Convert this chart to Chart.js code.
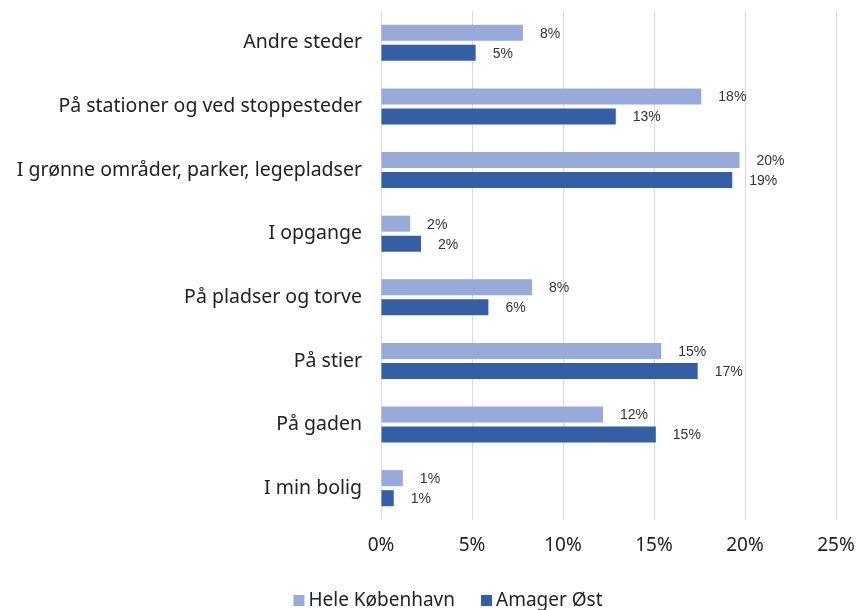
<!DOCTYPE html>
<html>
<head>
<meta charset="utf-8">
<script src="https://cdn.jsdelivr.net/npm/chart.js@4"></script>
<style>
  html, body { margin: 0; padding: 0; background: #ffffff; }
  #wrap { width: 858px; height: 610px; position: relative; }
</style>
</head>
<body>
<div id="wrap"><canvas id="chart"></canvas></div>
<script>

/**
 * Data
 */
const CATEGORIES = [
  'Andre steder',
  'På stationer og ved stoppesteder',
  'I grønne områder, parker, legepladser',
  'I opgange',
  'På pladser og torve',
  'På stier',
  'På gaden',
  'I min bolig'
];

const HELE_KOBENHAVN = [7.8, 17.6, 19.7, 1.6, 8.3, 15.4, 12.2, 1.2];
const AMAGER_OST = [5.2, 12.9, 19.3, 2.2, 5.9, 17.4, 15.1, 0.7];

const SERIES_NAMES = ['Hele København', 'Amager Øst'];
const X_TICKS = [0, 5, 10, 15, 20, 25];

const LIGHT_BLUE = '#98aad9';
const DARK_BLUE = '#355fa4';
const TEXT_COLOR = '#222222';
const LABEL_FONT = '"Noto Sans", sans-serif';

//
//
// Value labels at the end of each bar
const valueLabels = {
  id: 'valueLabels',
  afterDatasetsDraw(chart) {
    let ctx = chart.ctx;
    ctx.save();
    ctx.font = '14px "Liberation Sans", Arial, sans-serif';
    ctx.fillStyle = '#333333';
    ctx.textAlign = 'left';
    ctx.textBaseline = 'middle';
    chart.data.datasets.forEach((ds, i) => {
      let meta = chart.getDatasetMeta(i);
      meta.data.forEach((bar, j) => {
        ctx.fillText(Math.round(ds.data[j]) + '%', bar.x + 17, bar.y + 1);
      });
    });
    ctx.restore();
  }
};

//
//
// Legend under the axis, centred like the original
const bottomLegend = {
  id: 'bottomLegend',
  afterDraw(chart) {
    let ctx = chart.ctx;
    let box = 11, gap = 4, spacing = 26, centerX = 448, y = 601;
    ctx.save();
    ctx.font = '19px ' + LABEL_FONT;
    ctx.textBaseline = 'middle';
    ctx.textAlign = 'left';
    let items = chart.data.datasets.map(ds => ({
      text: ds.label,
      color: ds.backgroundColor,
      width: box + gap + ctx.measureText(ds.label).width
    }));
    let total = items.reduce((s, it) => s + it.width, 0) + spacing * (items.length - 1);
    let x = centerX - total / 2;
    items.forEach(it => {
      ctx.fillStyle = it.color;
      ctx.fillRect(x, y - 6, box, box);
      ctx.fillStyle = TEXT_COLOR;
      ctx.fillText(it.text, x + box + gap, y);
      x += it.width + spacing;
    });
    ctx.restore();
  }
};

let ctx = document.getElementById('chart').getContext('2d');

new Chart(ctx, {
  type: 'bar',
  data: {
    labels: CATEGORIES,
    datasets: [{
      label: SERIES_NAMES[0],
      data: HELE_KOBENHAVN,
      backgroundColor: LIGHT_BLUE,
      categoryPercentage: 0.63,
      barPercentage: 0.8
    }, {
      label: SERIES_NAMES[1],
      data: AMAGER_OST,
      backgroundColor: DARK_BLUE,
      categoryPercentage: 0.63,
      barPercentage: 0.8
    }]
  },
  options: {
    indexAxis: 'y',
    responsive: true,
    maintainAspectRatio: false,
    animation: false,
    layout: {
      padding: { left: 0, right: 22, top: 11, bottom: 46 }
    },
    scales: {
      x: {
        min: 0,
        max: 25,
        afterBuildTicks(scale) {
          scale.ticks = X_TICKS.map(v => ({ value: v }));
        },
        afterFit(scale) {
          scale.height = 44;
          scale.paddingLeft = 0;
          scale.paddingRight = 0;
        },
        grid: { color: '#d9d9d9', drawTicks: false },
        border: { display: false },
        ticks: {
          padding: 14,
          color: TEXT_COLOR,
          font: { family: LABEL_FONT, size: 19 },
          callback: v => v + '%'
        }
      },
      y: {
        grid: { display: false },
        border: { display: false },
        afterFit(scale) {
          scale.width = 381;
          scale.paddingTop = 0;
          scale.paddingBottom = 0;
        },
        ticks: {
          padding: 11,
          color: TEXT_COLOR,
          font: { family: LABEL_FONT, size: 19.5 }
        }
      }
    },
    plugins: {
      legend: { display: false },
      tooltip: { enabled: false }
    }
  },
  plugins: [valueLabels, bottomLegend]
});
</script>
</body>
</html>
